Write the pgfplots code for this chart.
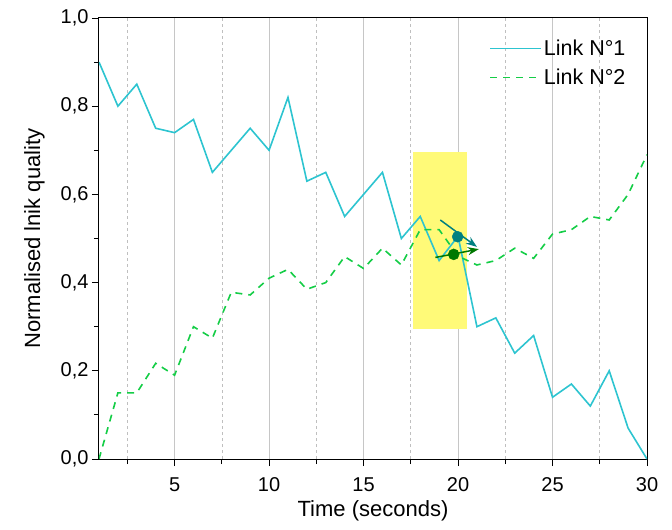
\documentclass[border=0pt]{standalone}
\usepackage{pgfplots}
\pgfplotsset{compat=1.18}
\usepackage{fontspec}
\setmainfont{Liberation Sans}
\usetikzlibrary{arrows.meta}
\definecolor{linkone}{RGB}{45,196,208}
\definecolor{linktwo}{RGB}{20,205,70}
\definecolor{hl}{RGB}{255,250,120}
\definecolor{tealc}{RGB}{0,128,128}
\definecolor{greenc}{RGB}{0,120,0}
\newcommand{\legfont}{\fontsize{21.5}{25}\selectfont}
\begin{document}
\begin{tikzpicture}
\path[use as bounding box] (-99pt,-71pt) rectangle (573pt,459pt);
\begin{axis}[
  at={(0pt,0pt)}, anchor=south west,
  scale only axis, width=548pt, height=441pt,
  xmin=1, xmax=30, ymin=0, ymax=1,
  xtick={5,10,...,30},
  minor xtick={2.5,7.5,...,27.5},
  ytick={0,0.2,...,1.0},
  minor ytick={0.1,0.3,...,0.9},
  tick align=outside,
  tick pos=left,
  major tick length=7pt,
  minor tick length=5pt,
  every tick/.style={black, line width=0.9pt},
  axis line style={line width=1pt},
  xmajorgrids,
  xminorgrids,
  major x grid style={gray!45, line width=0.8pt},
  minor x grid style={gray!50, dashed, line width=0.6pt},
  /pgf/number format/assume math mode=true,
  yticklabel style={/pgf/number format/.cd, use comma, fixed, fixed zerofill, precision=1},
  ticklabel style={font=\fontsize{20}{23}\selectfont},
  xticklabel style={yshift=-8pt},
  xlabel={Time (seconds)},
  ylabel={Normalised lnik quality},
  label style={font=\fontsize{22}{26}\selectfont},
  xlabel style={yshift=-2pt},
  ylabel style={yshift=9pt},
  legend style={draw=none, fill=none, at={(0.97,0.96)}, anchor=north east,
    font=\legfont, row sep=8pt},
  legend cell align=left,
  legend image code/.code={\draw[#1, line width=1.6pt] (0pt,0pt) -- (51pt,0pt);},
]
\addplot[draw=none, fill=hl, forget plot] coordinates {(17.63,0.295) (20.49,0.295) (20.49,0.696) (17.63,0.696)} -- cycle;
\addplot[linkone, line width=1.6pt] coordinates {
(1,0.90) (2,0.80) (3,0.85) (4,0.75) (5,0.74) (6,0.77) (7,0.65) (8,0.70) (9,0.75) (10,0.70)
(11,0.82) (12,0.63) (13,0.65) (14,0.55) (15,0.60) (16,0.65) (17,0.50) (18,0.55) (19,0.45) (20,0.505)
(21,0.30) (22,0.32) (23,0.24) (24,0.28) (25,0.14) (26,0.17) (27,0.12) (28,0.20) (29,0.07) (30,0.00)};
\addlegendentry{\legfont Link N°1}
\addplot[linktwo, line width=1.6pt, dash pattern=on 7pt off 6pt] coordinates {
(1,0.00) (2,0.15) (3,0.15) (4,0.217) (5,0.19) (6,0.30) (7,0.274) (8,0.378) (9,0.372) (10,0.41)
(11,0.43) (12,0.385) (13,0.40) (14,0.459) (15,0.432) (16,0.478) (17,0.44) (18,0.52) (19,0.52) (20,0.46)
(21,0.44) (22,0.45) (23,0.478) (24,0.455) (25,0.51) (26,0.52) (27,0.55) (28,0.542) (29,0.60) (30,0.69)};
\addlegendentry{\legfont Link N°2}
\addplot[tealc, line width=1.5pt, -{Stealth[length=11pt,width=8pt]}, forget plot] coordinates {(19.06,0.542) (21.0,0.481)};
\addplot[greenc, line width=1.5pt, -{Stealth[length=11pt,width=8pt]}, forget plot] coordinates {(18.8,0.457) (21.1,0.476)};
\addplot[only marks, mark=*, mark size=5.5pt, tealc, forget plot] coordinates {(19.98,0.504)};
\addplot[only marks, mark=*, mark size=5.5pt, greenc, forget plot] coordinates {(19.77,0.464)};
\end{axis}
\end{tikzpicture}
\end{document}
